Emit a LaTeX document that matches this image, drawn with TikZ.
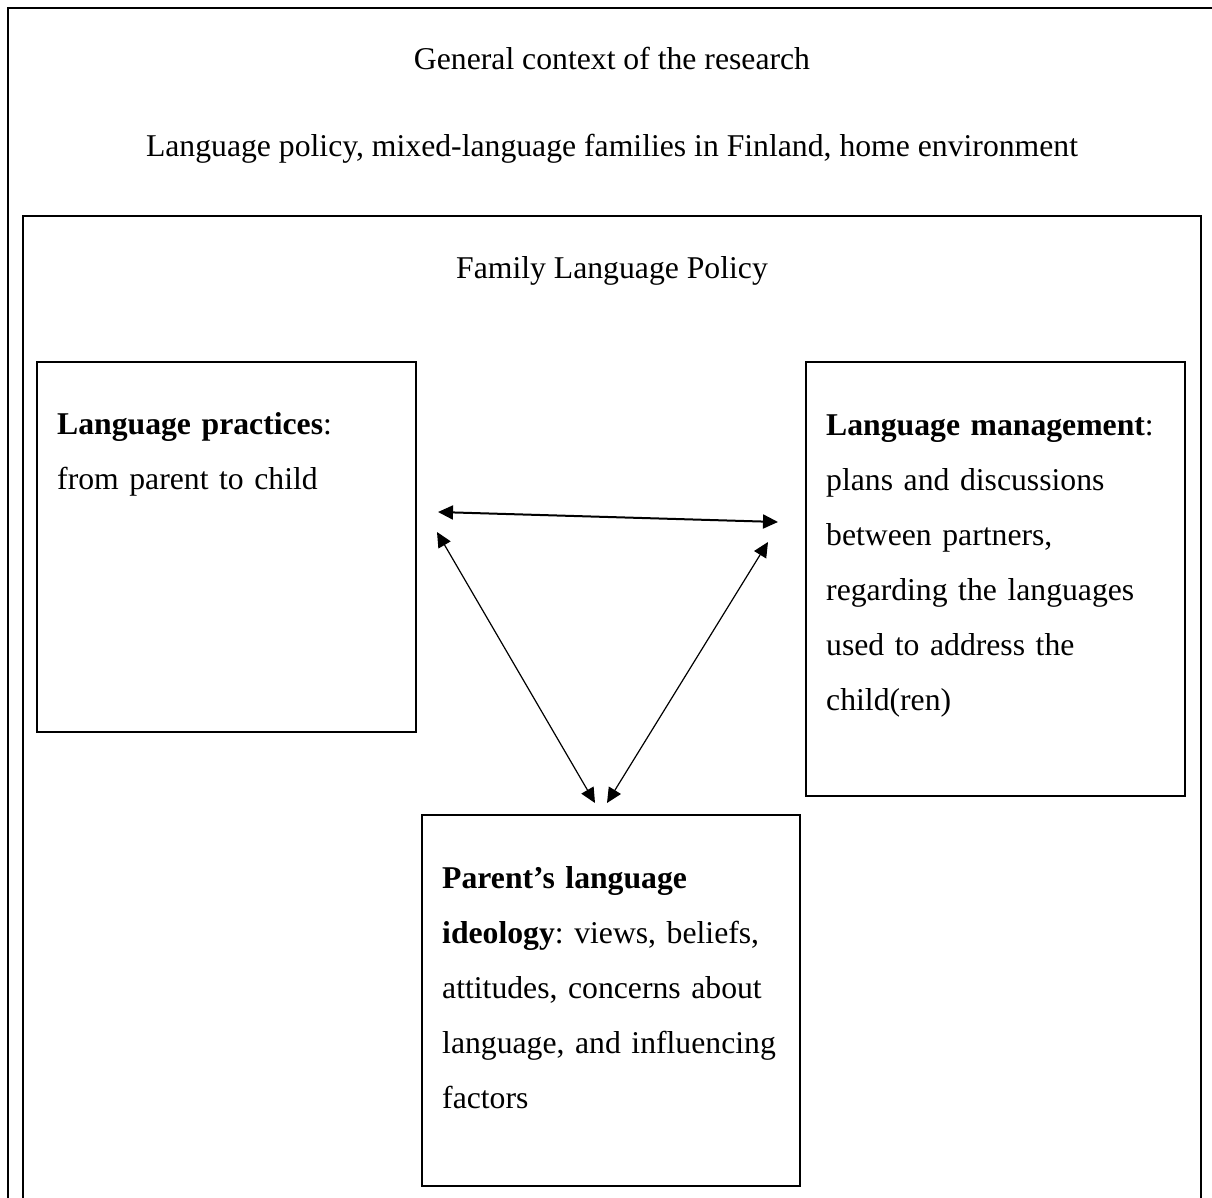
\documentclass[tikz,border=0pt]{standalone}
\usepackage{fontspec}
\setmainfont{Liberation Serif}
\usetikzlibrary{arrows.meta}
\frenchspacing
\begin{document}
\begin{tikzpicture}[x=1pt,y=-1pt,
  frame/.style={draw, line width=2.5pt, inner sep=0pt, outer sep=0pt, anchor=north west},
  box/.style={draw, line width=1.6pt, inner sep=0pt, outer sep=0pt, anchor=north west},
  txt/.style={anchor=base west, inner sep=0pt, align=left, text width=#1, font=\fontsize{31.7pt}{55pt}\selectfont\frenchspacing},
  title/.style={anchor=base, inner sep=0pt, font=\fontsize{31.7pt}{55pt}\selectfont\frenchspacing},
  link/.style={{Triangle[length=15pt,width=14pt]}-{Triangle[length=15pt,width=14pt]}, line width=1.2pt}
]
\useasboundingbox (0,0) rectangle (1212,1198);
\clip (0,0) rectangle (1212,1198);
% containers
\node[frame, minimum width=1210pt, minimum height=1210pt] (outer) at (8,8) {};
\node[frame, line width=2.2pt, minimum width=1178pt, minimum height=1000pt] (inner) at (23,216) {};
% titles
\node[title] (t1) at (612,70) {General context of the research};
\node[title] (t2) at (612,157) {Language policy, mixed-language families in Finland, home environment};
\node[title] (t3) at (612,278) {Family Language Policy};
% boxes
\node[box, minimum width=379pt, minimum height=370pt] (lp) at (37,362) {};
\node[box, minimum width=379pt, minimum height=434pt] (lm) at (806,362) {};
\node[box, minimum width=378pt, minimum height=371pt] (pi) at (422,815) {};
% box texts
\node[txt=340pt] (lpT) at (57,434) {\textbf{Language practices}:\\from parent to child};
\node[txt=360pt] (lmT) at (826,435) {\textbf{Language management}:\\plans and discussions\\between partners,\\regarding the languages\\used to address the\\child(ren)};
\node[txt=350pt] (piT) at (442,888) {\textbf{Parent’s language}\\\textbf{ideology}: views, beliefs,\\attitudes, concerns about\\language, and influencing\\factors};
% arrows
\coordinate (a1) at (438,512);
\coordinate (a2) at (778,522);
\coordinate (b1) at (437,532);
\coordinate (b2) at (595,803);
\coordinate (c1) at (768,542);
\coordinate (c2) at (607,803);
\draw[link, line width=2pt] (a1) -- (a2);
\draw[link] (b1) -- (b2);
\draw[link] (c1) -- (c2);
\end{tikzpicture}
\end{document}
